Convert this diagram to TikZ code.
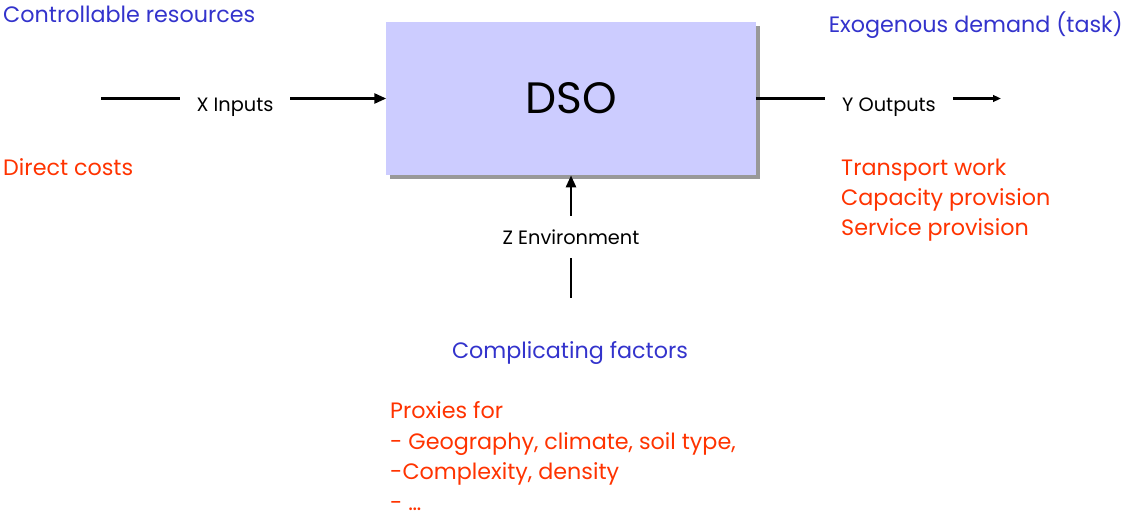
\documentclass[tikz,border=0pt]{standalone}
\usepackage{fontspec}
\setmainfont{Poppins}
\usetikzlibrary{positioning, shadows, arrows.meta}
\definecolor{boxblue}{HTML}{CCCCFF}
\definecolor{headblue}{HTML}{3333CC}
\definecolor{notered}{HTML}{FF3300}
\tikzstyle{block} = [rectangle, minimum width=11.07cm, minimum height=4.6cm, text centered, fill=boxblue, drop shadow={shadow xshift=0.12cm, shadow yshift=-0.12cm, fill=black!40, opacity=1}, font=\fontsize{37.5}{42}\selectfont]
\tikzstyle{label} = [inner sep=0pt, font=\fontsize{16.5}{19}\selectfont]
\tikzstyle{head} = [inner sep=0pt, text=headblue, font=\fontsize{19}{23}\selectfont]
\tikzstyle{note} = [inner sep=0pt, text=notered, align=left, font=\fontsize{19}{26}\selectfont]
\tikzstyle{arrow} = [line width=2.2pt,-{Triangle[length=0.36cm, width=0.3cm]}]
\tikzstyle{arrowsmall} = [line width=2.2pt,-{Triangle[length=0.24cm, width=0.2cm]}]
\tikzstyle{line} = [line width=2.2pt]

\begin{document}
\begin{tikzpicture}[x=0.03cm, y=-0.03cm]
    \useasboundingbox (0,0) rectangle (1125,517);
    \node (dso) [block] at (571,98.5) {DSO};
    % inputs
    \coordinate (xin) at (101,98.5);
    \node (xlab) [label, minimum width=3.3cm] at (235,98.5) {\raisebox{-11pt}[0pt][0pt]{X Inputs}};
    \draw[line] (xin)--(xlab);
    \draw[arrow] (xlab)--(dso);
    % outputs
    \node (ylab) [label, minimum width=3.84cm] at (889,98.5) {\raisebox{-11pt}[0pt][0pt]{Y Outputs}};
    \coordinate (yout) at (1001,98.5);
    \draw[line] (dso)--(ylab);
    \draw[arrowsmall] (ylab)--(yout);
    % environment
    \node (zlab) [label, minimum height=1.26cm] at (571,237) {Z Environment};
    \coordinate (zin) at (571,298);
    \draw[line] (zin)--(zlab);
    \draw[arrow] (zlab)--(dso);
    % texts
    \node (ctrl) [head, anchor=base west] at (3,23) {Controllable resources};
    \node (cost) [note, anchor=base west] at (3,176) {Direct costs};
    \node (exo) [head, anchor=base east] at (1123,33) {Exogenous demand (task)};
    \node (task) [note, anchor=base west] at (841,236) {Transport work\\Capacity provision\\Service provision};
    \node (comp) [head, anchor=base] at (570,359) {Complicating factors};
    \node (prox) [note, anchor=base west] at (390,510) {Proxies for\\- Geography, climate, soil type,\\-Complexity, density\\- \dots};
\end{tikzpicture}
\end{document}
